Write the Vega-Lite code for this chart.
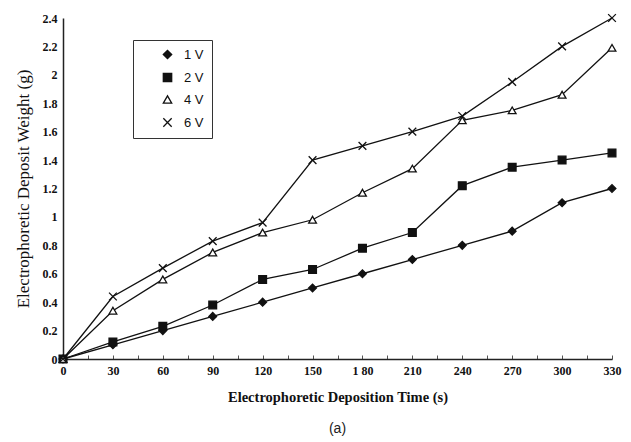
{
  "$schema": "https://vega.github.io/schema/vega-lite/v6.json",
  "width": 549,
  "height": 341,
  "autosize": {"type": "none"},
  "padding": {"left": 63, "top": 18, "right": 19, "bottom": 83},
  "background": "white",
  "title": {"text": "(a)", "orient": "bottom", "font": "Liberation Sans", "fontSize": 14, "fontWeight": "normal", "color": "#222", "offset": 18, "anchor": "middle"},
  "config": {"view": {"stroke": null}},
  "data": {"values": [
    {"t": 0, "w": 0, "s": "1 V"}, {"t": 30, "w": 0.1, "s": "1 V"}, {"t": 60, "w": 0.2, "s": "1 V"}, {"t": 90, "w": 0.3, "s": "1 V"}, {"t": 120, "w": 0.4, "s": "1 V"}, {"t": 150, "w": 0.5, "s": "1 V"}, {"t": 180, "w": 0.6, "s": "1 V"}, {"t": 210, "w": 0.7, "s": "1 V"}, {"t": 240, "w": 0.8, "s": "1 V"}, {"t": 270, "w": 0.9, "s": "1 V"}, {"t": 300, "w": 1.1, "s": "1 V"}, {"t": 330, "w": 1.2, "s": "1 V"},
    {"t": 0, "w": 0, "s": "2 V"}, {"t": 30, "w": 0.12, "s": "2 V"}, {"t": 60, "w": 0.23, "s": "2 V"}, {"t": 90, "w": 0.38, "s": "2 V"}, {"t": 120, "w": 0.56, "s": "2 V"}, {"t": 150, "w": 0.63, "s": "2 V"}, {"t": 180, "w": 0.78, "s": "2 V"}, {"t": 210, "w": 0.89, "s": "2 V"}, {"t": 240, "w": 1.22, "s": "2 V"}, {"t": 270, "w": 1.35, "s": "2 V"}, {"t": 300, "w": 1.4, "s": "2 V"}, {"t": 330, "w": 1.45, "s": "2 V"},
    {"t": 0, "w": 0, "s": "4 V"}, {"t": 30, "w": 0.34, "s": "4 V"}, {"t": 60, "w": 0.56, "s": "4 V"}, {"t": 90, "w": 0.75, "s": "4 V"}, {"t": 120, "w": 0.89, "s": "4 V"}, {"t": 150, "w": 0.98, "s": "4 V"}, {"t": 180, "w": 1.17, "s": "4 V"}, {"t": 210, "w": 1.34, "s": "4 V"}, {"t": 240, "w": 1.68, "s": "4 V"}, {"t": 270, "w": 1.75, "s": "4 V"}, {"t": 300, "w": 1.86, "s": "4 V"}, {"t": 330, "w": 2.19, "s": "4 V"},
    {"t": 0, "w": 0, "s": "6 V"}, {"t": 30, "w": 0.44, "s": "6 V"}, {"t": 60, "w": 0.64, "s": "6 V"}, {"t": 90, "w": 0.83, "s": "6 V"}, {"t": 120, "w": 0.96, "s": "6 V"}, {"t": 150, "w": 1.4, "s": "6 V"}, {"t": 180, "w": 1.5, "s": "6 V"}, {"t": 210, "w": 1.6, "s": "6 V"}, {"t": 240, "w": 1.71, "s": "6 V"}, {"t": 270, "w": 1.95, "s": "6 V"}, {"t": 300, "w": 2.2, "s": "6 V"}, {"t": 330, "w": 2.4, "s": "6 V"}
  ]},
  "encoding": {
    "x": {"field": "t", "type": "quantitative", "scale": {"domain": [0, 330], "nice": false},
      "axis": {"title": "Electrophoretic Deposition Time (s)", "values": [0,15,30,45,60,75,90,105,120,135,150,165,180,195,210,225,240,255,270,285,300,315,330],
        "labelExpr": "datum.value % 30 != 0 ? '' : (datum.value == 180 ? '1 80' : datum.label)",
        "grid": false, "domainColor": "#222", "domainWidth": 1.5, "tickColor": "#555", "tickSize": -4, "labelFont": "Liberation Serif", "labelFontWeight": "bold", "labelFontSize": 12, "labelColor": "#111", "labelPadding": 10, "labelFlush": false, "labelOverlap": false,
        "titleFont": "Liberation Serif", "titleFontWeight": "bold", "titleFontSize": 14.5, "titleColor": "#111", "titlePadding": 14}},
    "y": {"field": "w", "type": "quantitative", "scale": {"domain": [0, 2.4], "nice": false},
      "axis": {"title": "Electrophoretic Deposit Weight (g)", "values": [0,0.2,0.4,0.6,0.8,1,1.2,1.4,1.6,1.8,2,2.2,2.4], "format": "~g",
        "grid": false, "domainColor": "#222", "domainWidth": 1.5, "ticks": false, "labelFont": "Liberation Serif", "labelFontWeight": "bold", "labelFontSize": 12, "labelColor": "#111", "labelPadding": 6,
        "titleFont": "Liberation Serif", "titleFontWeight": "normal", "titleFontSize": 17, "titleColor": "#111", "titlePadding": 10}}
  },
  "layer": [
    {"mark": {"type": "line", "color": "#111", "strokeWidth": 1.3}, "encoding": {"detail": {"field": "s"}}},
    {"mark": {"type": "point", "opacity": 1, "strokeWidth": 1.3},
      "encoding": {
        "shape": {"field": "s", "type": "nominal", "title": null,
          "scale": {"domain": ["1 V", "2 V", "4 V", "6 V"], "range": ["diamond", "square", "triangle-up", "M-1,-1L1,1M-1,1L1,-1"]},
          "legend": {"title": null, "orient": "none", "legendX": 70, "legendY": 22, "strokeColor": "#333", "padding": 8, "symbolOffset": 20, "symbolSize": 70, "symbolStrokeWidth": 1.3, "labelFont": "Liberation Sans", "labelFontSize": 13, "labelColor": "#111", "rowPadding": 8, "labelOffset": 10}},
        "fill": {"field": "s", "type": "nominal", "title": null, "scale": {"domain": ["1 V", "2 V", "4 V", "6 V"], "range": ["#111", "#111", "white", "white"]},
          "legend": {"title": null, "orient": "none", "legendX": 70, "legendY": 22, "strokeColor": "#333", "padding": 8, "symbolOffset": 20, "symbolSize": 70, "symbolStrokeWidth": 1.3, "labelFont": "Liberation Sans", "labelFontSize": 13, "labelColor": "#111", "rowPadding": 8, "labelOffset": 10}},
        "stroke": {"field": "s", "type": "nominal", "title": null, "scale": {"domain": ["1 V", "2 V", "4 V", "6 V"], "range": ["#111", "#111", "#111", "#111"]},
          "legend": {"title": null, "orient": "none", "legendX": 70, "legendY": 22, "strokeColor": "#333", "padding": 8, "symbolOffset": 20, "symbolSize": 70, "symbolStrokeWidth": 1.3, "labelFont": "Liberation Sans", "labelFontSize": 13, "labelColor": "#111", "rowPadding": 8, "labelOffset": 10}},
        "size": {"value": 60}
      }}
  ]
}
